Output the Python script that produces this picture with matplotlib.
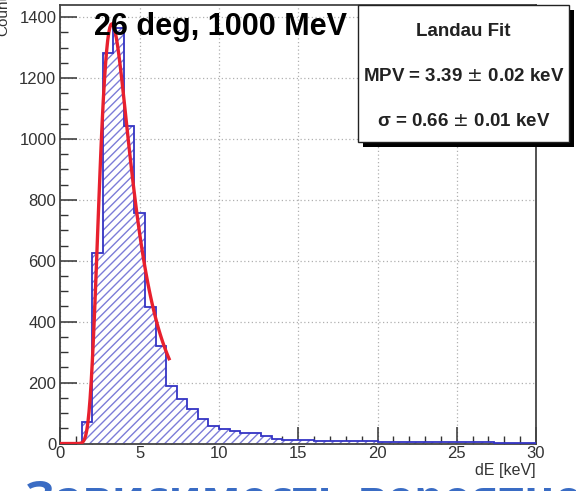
import numpy as np
import matplotlib
matplotlib.use("Agg")
import matplotlib.pyplot as plt
from matplotlib.patches import Rectangle
from matplotlib.ticker import MultipleLocator

# energy-loss histogram: 45 bins of 2/3 keV between 0 and 30 keV
bin_lo, bin_hi, n_bins = 0.0, 30.0, 45
counts = [0, 0, 70, 625, 1284, 1366, 1042, 757, 447, 320,
          188, 145, 115, 80, 58, 47, 40, 35, 33, 24,
          15, 12, 11, 10, 9, 9, 8, 8, 7, 7,
          6, 6, 6, 5, 5, 5, 5, 4, 4, 4,
          4, 3, 3, 3, 3]

# Landau fit result
mpv, mpv_err = 3.39, 0.02
sigma, sigma_err = 0.66, 0.01
fit_const = 7630.0
fit_lo, fit_hi = 0.0, 6.85

title = "26 deg, 1000 MeV"
slide_caption = "Зависимость вероятности"

plt.rcParams["font.family"] = ["Liberation Sans", "DejaVu Sans"]


def landau(x, loc, scale):
    # same convention as TMath::Landau (not normalised)
    lam = (np.asarray(x) - loc) / scale
    t = np.linspace(1e-9, 60, 60001)
    out = np.zeros_like(lam)
    for i, l in enumerate(lam):
        if l < -3.8:
            continue
        f = np.exp(-t * np.log(t) - l * t) * np.sin(np.pi * t)
        out[i] = np.trapezoid(f, t) / np.pi
    return out


edges = np.linspace(bin_lo, bin_hi, n_bins + 1)
counts = np.array(counts, dtype=float)

fig = plt.figure(figsize=(5.76, 4.91), dpi=100)
ax = fig.add_axes([0.105, 0.0967, 0.8256, 0.8931])

# hatched body, then the outline on top
ax.stairs(counts, edges, fill=True, facecolor="white", edgecolor="#7c7cd8",
          hatch="////", linewidth=0, zorder=2)
ax.stairs(counts, edges, color="#3434c4", linewidth=1.3, zorder=3)

xf = np.linspace(fit_lo, fit_hi, 100)
ax.plot(xf, fit_const * landau(xf, mpv, sigma), color="#e8202e", lw=2.4, zorder=4)

ax.set_xlim(bin_lo, bin_hi)
ax.set_ylim(0, 1440)
ax.xaxis.set_major_locator(MultipleLocator(5))
ax.xaxis.set_minor_locator(MultipleLocator(1))
ax.yaxis.set_major_locator(MultipleLocator(200))
ax.yaxis.set_minor_locator(MultipleLocator(50))
ax.tick_params(which="both", direction="in", top=False, right=False,
               colors="#333333", labelsize=12)
ax.tick_params(which="major", length=12, width=1.1)
ax.tick_params(which="minor", length=6, width=1.0)
ax.tick_params(axis="x", pad=2)
ax.tick_params(axis="y", pad=3)
ax.grid(True, which="major", color="#b0b0b0", linestyle=(0, (1, 2)), lw=0.9)
for s in ax.spines.values():
    s.set_color("#444444")
    s.set_linewidth(1.3)

ax.text(1.0, -0.044, "dE [keV]", transform=ax.transAxes, ha="right",
        va="top", fontsize=11.5, color="#333333")
fig.text(0.006, 1.01, "Count", rotation=90, ha="center", va="top",
         fontsize=11, color="#333333")

ax.text(0.07, 0.985, title, transform=ax.transAxes, ha="left", va="top",
        fontsize=22, fontweight="bold", zorder=6)

# stats box with drop shadow, in pixel units of the figure
W, H = 576.0, 491.0
bx0, bx1, by0, by1 = 358, 569, 5, 142
fig.patches.append(Rectangle(((bx0 + 5) / W, 1 - (by1 + 5) / H),
                             (bx1 - bx0) / W, (by1 - by0) / H,
                             transform=fig.transFigure, facecolor="black",
                             edgecolor="none", zorder=5))
fig.patches.append(Rectangle((bx0 / W, 1 - by1 / H),
                             (bx1 - bx0) / W, (by1 - by0) / H,
                             transform=fig.transFigure, facecolor="white",
                             edgecolor="#222222", lw=1.0, zorder=6))
cx = (bx0 + bx1) / 2 / W
box_kw = dict(ha="center", va="center", fontsize=13.5, fontweight="bold",
              color="#222222", zorder=7)
fig.text(cx, 1 - 31 / H, "Landau Fit", **box_kw)
fig.text(cx, 1 - 77 / H, f"MPV = {mpv:.2f} $\\pm$ {mpv_err:.2f} keV", **box_kw)
fig.text(cx, 1 - 121 / H, f"σ = {sigma:.2f} $\\pm$ {sigma_err:.2f} keV", **box_kw)

fig.text(25 / W, 1 - 514 / H, slide_caption, ha="left", va="baseline",
         fontsize=33, fontweight="bold", family="Open Sans", color="#3a6cc4")

fig.savefig("out.png", dpi=100)
